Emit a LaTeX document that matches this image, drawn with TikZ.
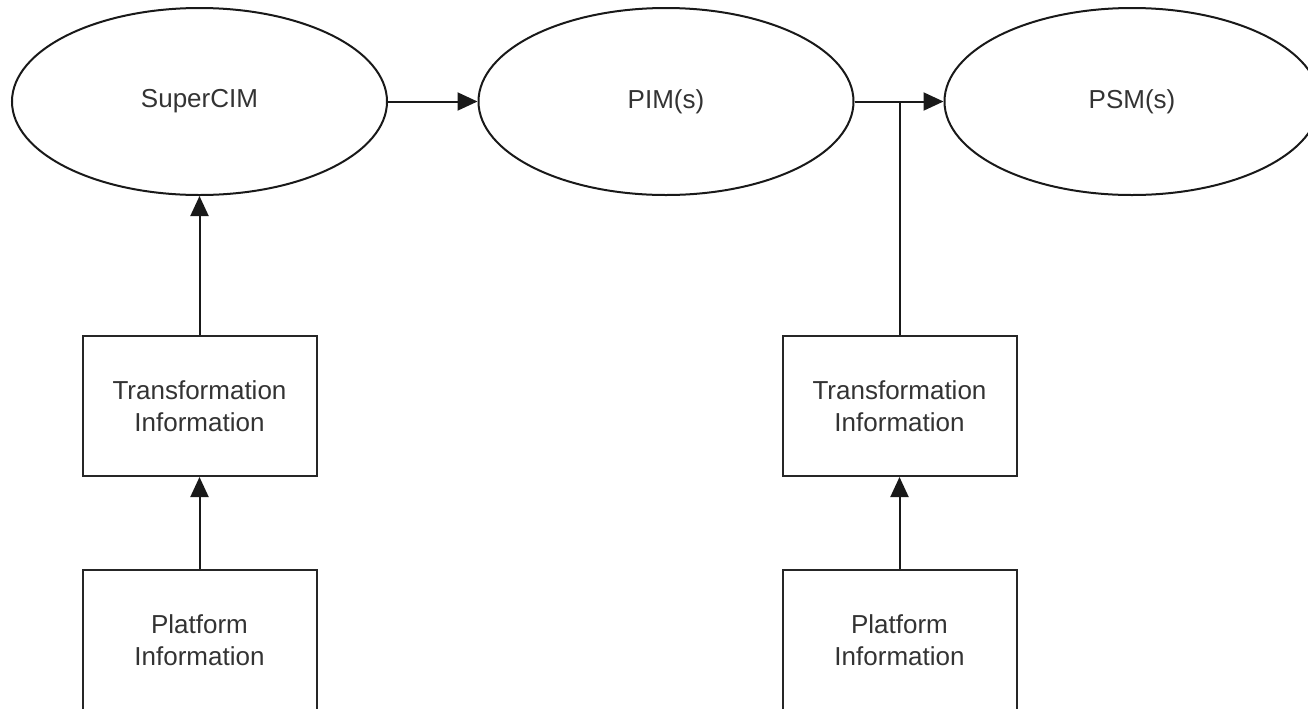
\documentclass[tikz,border=0pt]{standalone}
\usepackage{fontspec}
\setmainfont{Liberation Sans}
\usetikzlibrary{arrows.meta,shapes.geometric}

\begin{document}
\begin{tikzpicture}[x=0.5pt,y=-0.5pt,line width=1pt,
    model/.style={draw=black!90,ellipse,minimum width=187.5pt,minimum height=93.5pt,inner sep=0pt,text=black!80},
    info/.style={draw=black!85,rectangle,minimum width=117pt,minimum height=70pt,inner sep=0pt,align=center,text=black!80},
    link/.style={draw=black!90,-{Triangle[length=10pt,width=9pt]}},
    font=\fontsize{13}{16}\selectfont]
  \clip (0,0) rectangle (1308,708);
  % models
  \node[model] (cim) at (199.5,101.5) {SuperCIM};
  \node[model] (pim) at (666,101.5) {PIM(s)};
  \node[model] (psm) at (1132,101.5) {PSM(s)};
  % information boxes
  \foreach \side/\x in {a/199.5, b/899.5} {
    \node[info] (tr\side) at (\x,406) {Transformation\\Information};
    \node[info] (pl\side) at (\x,640) {Platform\\Information};
    \draw[link] (pl\side) -- (tr\side);
  }
  \draw[link] (tra) -- (cim);
  \draw[link] (cim) -- (pim);
  \draw[link] (pim) -- (psm);
  \coordinate (join) at (trb.north |- pim.east);
  \draw[draw=black!90] (trb) -- (join);
\end{tikzpicture}
\end{document}
